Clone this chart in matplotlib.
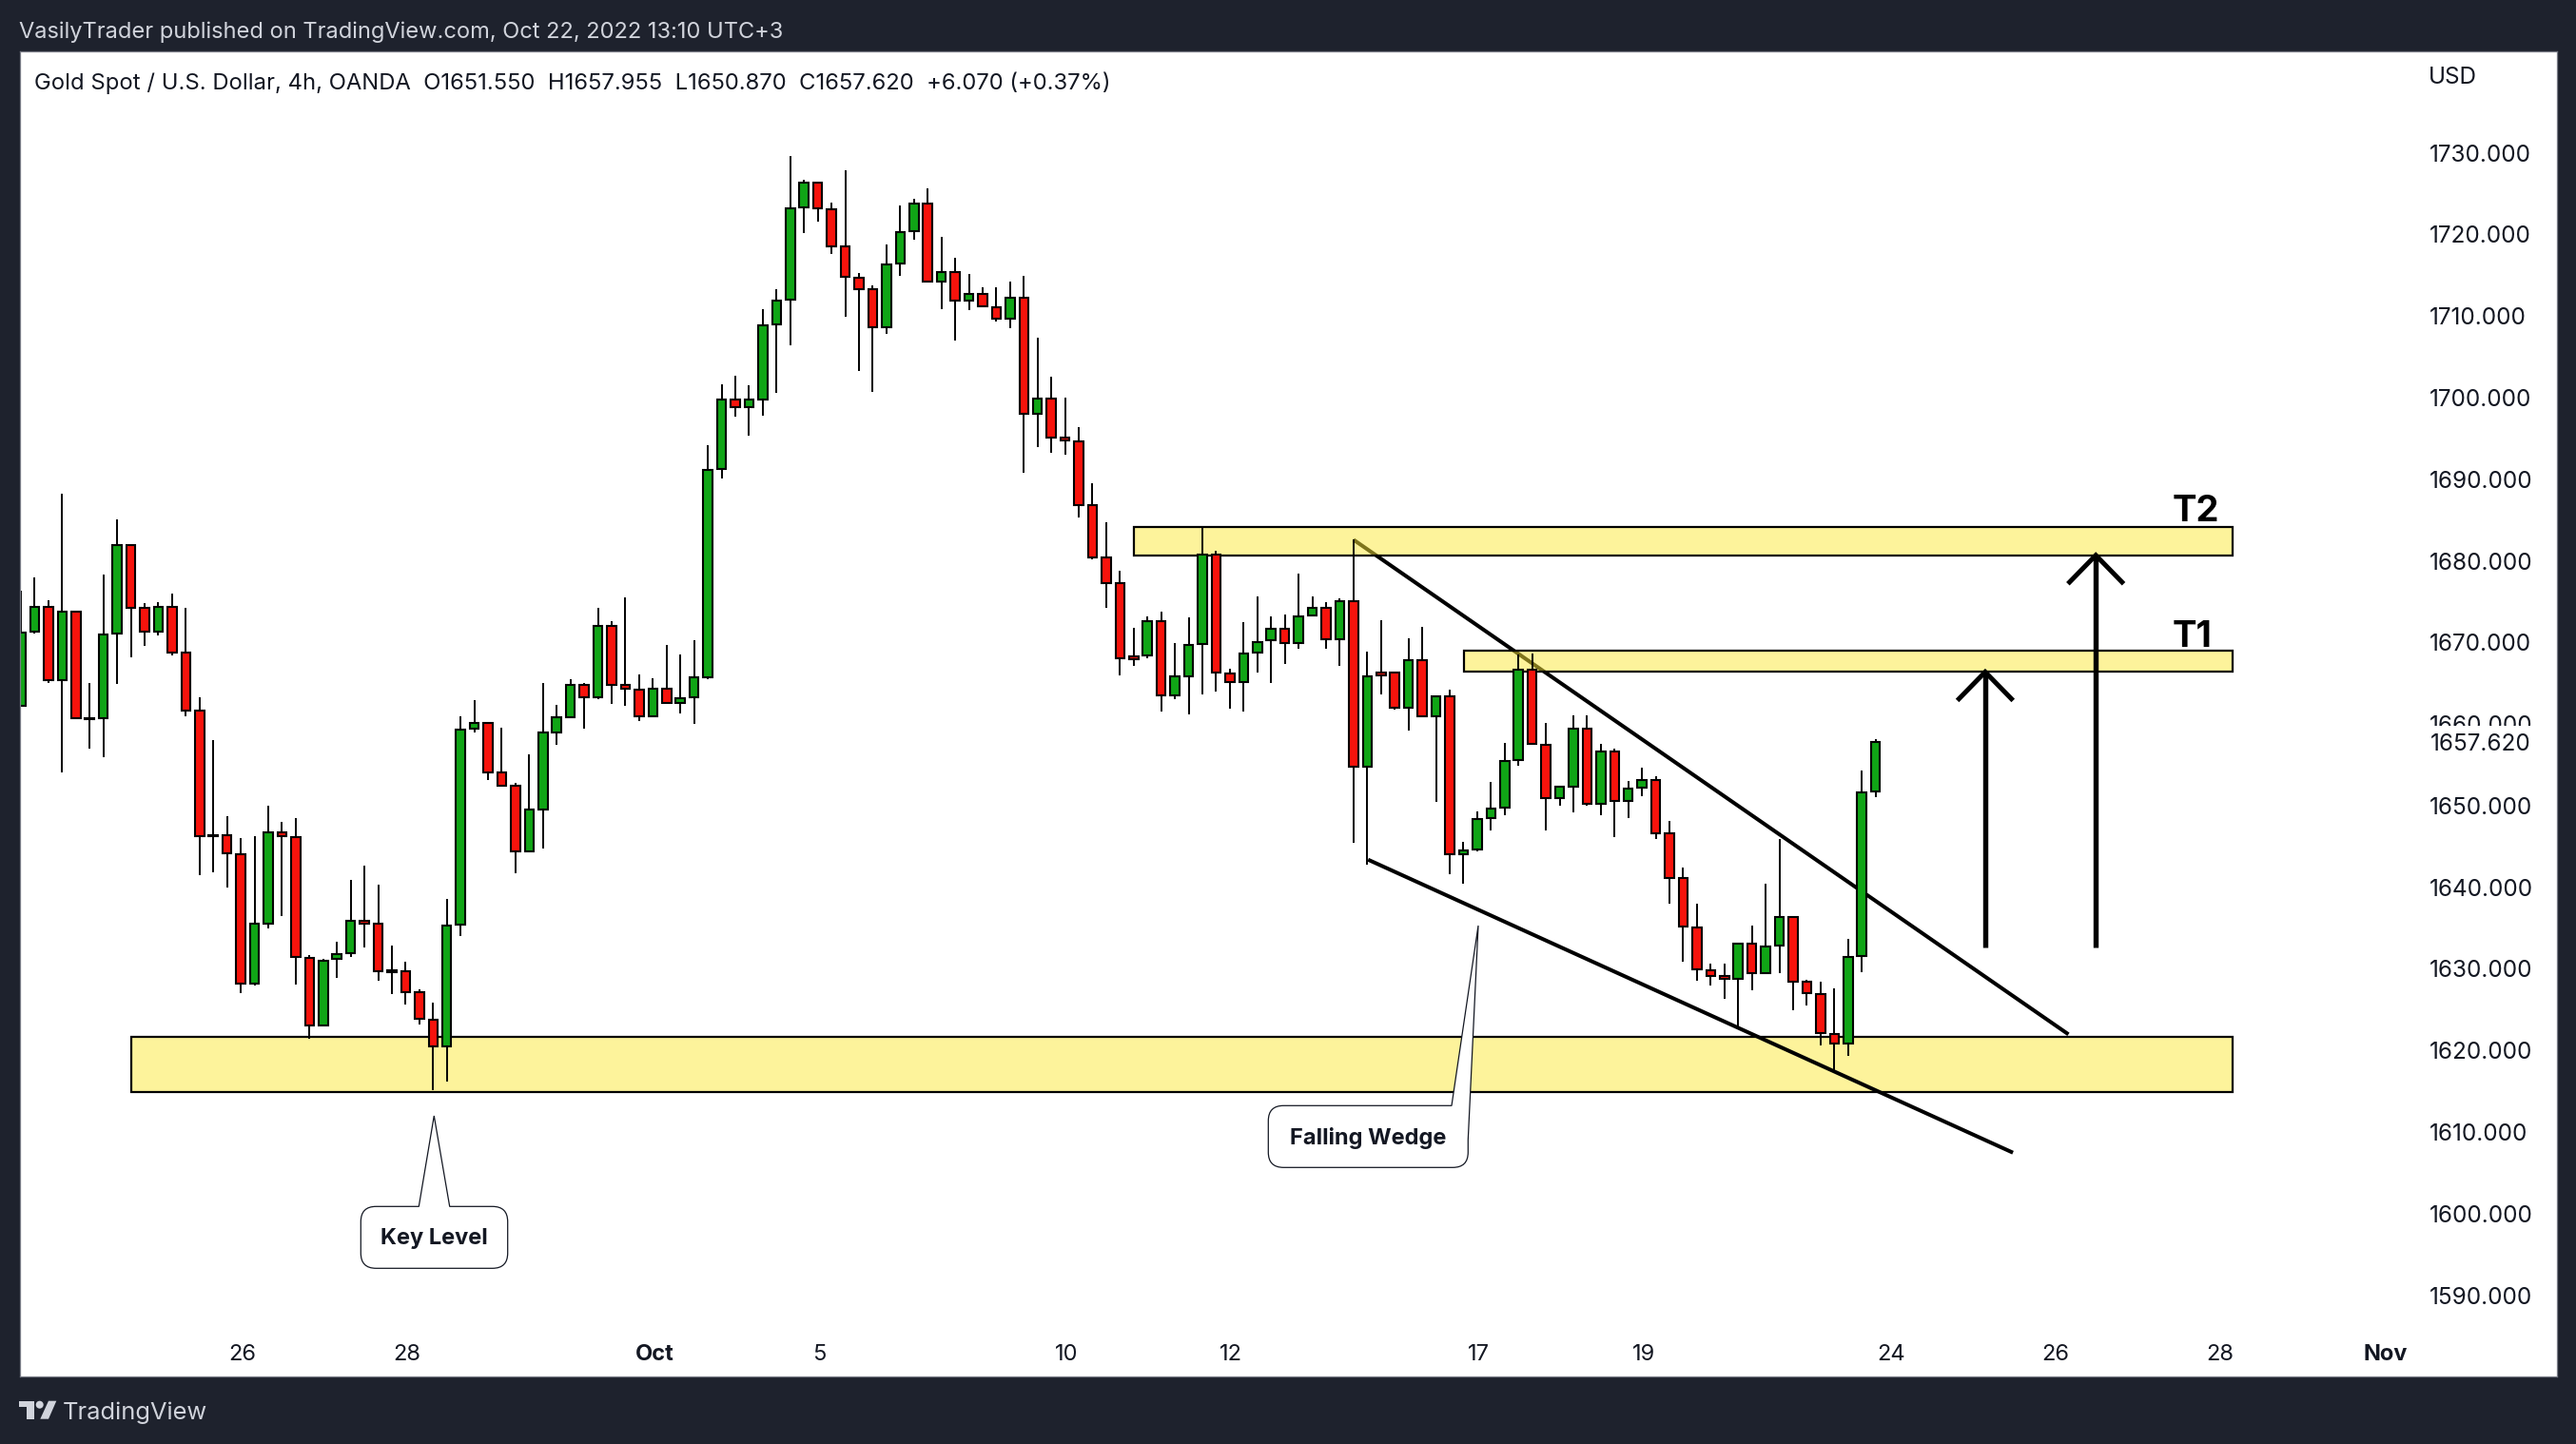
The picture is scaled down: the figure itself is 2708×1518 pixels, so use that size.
import matplotlib
matplotlib.use("Agg")
import matplotlib.pyplot as plt
import numpy as np
from matplotlib.patches import PathPatch, Polygon, Circle
from matplotlib.path import Path
from matplotlib.transforms import Affine2D, ScaledTranslation

W, H = 2708, 1518
DARK = "#1e222d"
GREEN = "#10a516"
RED = "#f7130c"

plt.rcParams["font.family"] = ["Inter", "DejaVu Sans"]

# 4h candles
opens = [
    1662.0, 1671.1, 1674.2, 1665.2, 1673.6, 1660.5, 1660.5, 1670.9, 1681.8, 1674.0,
    1671.2, 1674.2, 1668.6, 1661.5, 1646.2, 1646.2, 1643.9, 1628.0, 1635.4, 1646.5,
    1646.0, 1631.2, 1622.9, 1631.0, 1631.7, 1635.7, 1635.4, 1629.6, 1629.5, 1627.0,
    1623.6, 1620.3, 1635.2, 1659.2, 1659.9, 1653.9, 1652.3, 1644.2, 1649.4, 1658.8,
    1660.7, 1664.6, 1663.1, 1671.8, 1664.6, 1664.0, 1660.8, 1664.2, 1662.4, 1663.1,
    1665.5, 1691.1, 1699.6, 1698.7, 1699.6, 1708.8, 1711.8, 1723.1, 1726.2, 1722.9,
    1718.3, 1714.5, 1713.1, 1708.4, 1716.2, 1720.2, 1723.6, 1714.0, 1715.2, 1711.7,
    1712.5, 1710.9, 1709.5, 1712.0, 1697.8, 1699.7, 1694.9, 1694.5, 1686.6, 1680.2,
    1677.1, 1668.1, 1668.2, 1672.4, 1663.3, 1665.7, 1669.6, 1680.6, 1666.0, 1665.0,
    1668.6, 1670.1, 1671.5, 1669.8, 1673.1, 1674.1, 1670.2, 1674.9, 1654.6, 1666.1,
    1666.1, 1661.8, 1667.6, 1660.8, 1663.2, 1643.9, 1644.4, 1648.3, 1649.6, 1655.4,
    1666.5, 1657.3, 1650.7, 1652.2, 1659.3, 1650.0, 1656.4, 1650.4, 1652.0, 1653.0,
    1646.4, 1640.9, 1634.9, 1629.7, 1629.0, 1628.6, 1632.9, 1629.3, 1632.7, 1636.2,
    1628.2, 1626.7, 1621.8, 1620.7, 1631.4, 1651.55,
]
highs = [
    1676.2, 1677.8, 1675.0, 1688.0, 1673.6, 1664.9, 1678.1, 1684.9, 1681.8, 1674.6,
    1674.7, 1675.8, 1674.1, 1663.1, 1657.9, 1648.5, 1645.8, 1646.1, 1649.8, 1647.8,
    1648.3, 1631.5, 1631.0, 1633.1, 1640.7, 1642.5, 1640.1, 1632.7, 1630.7, 1627.3,
    1625.7, 1638.4, 1660.8, 1662.7, 1659.9, 1659.4, 1652.6, 1656.1, 1664.9, 1662.2,
    1665.3, 1664.9, 1674.1, 1672.4, 1675.3, 1665.9, 1665.4, 1669.5, 1668.3, 1670.1,
    1694.0, 1701.5, 1702.5, 1701.3, 1710.6, 1713.1, 1729.4, 1726.5, 1726.2, 1723.7,
    1727.7, 1715.1, 1713.6, 1718.6, 1723.3, 1724.2, 1725.4, 1719.5, 1717.0, 1715.0,
    1713.3, 1713.3, 1714.0, 1714.7, 1707.2, 1702.4, 1699.8, 1696.2, 1689.3, 1684.5,
    1678.6, 1671.6, 1673.0, 1673.6, 1669.8, 1672.9, 1684.0, 1681.1, 1666.6, 1672.3,
    1675.4, 1673.0, 1673.2, 1678.3, 1675.5, 1674.8, 1675.2, 1682.4, 1668.7, 1672.5,
    1666.2, 1670.3, 1671.7, 1663.3, 1664.0, 1645.4, 1649.1, 1652.7, 1657.5, 1668.3,
    1668.5, 1660.0, 1652.3, 1660.9, 1660.9, 1657.4, 1656.8, 1652.9, 1654.5, 1653.4,
    1648.0, 1642.2, 1637.8, 1630.5, 1630.5, 1633.0, 1635.1, 1640.2, 1645.7, 1636.3,
    1628.5, 1628.3, 1627.4, 1633.5, 1654.1, 1657.955,
]
lows = [
    1662.0, 1670.9, 1664.9, 1653.9, 1660.5, 1656.8, 1655.7, 1664.7, 1668.0, 1669.4,
    1670.7, 1668.2, 1660.8, 1641.3, 1641.7, 1639.8, 1626.9, 1627.8, 1634.8, 1636.3,
    1627.9, 1621.3, 1622.9, 1628.7, 1631.3, 1632.5, 1628.4, 1626.7, 1625.5, 1623.0,
    1615.0, 1616.0, 1633.9, 1658.8, 1653.0, 1652.1, 1641.5, 1644.2, 1644.6, 1657.3,
    1660.7, 1659.2, 1662.9, 1662.3, 1662.0, 1660.2, 1660.8, 1662.4, 1661.1, 1659.8,
    1665.3, 1689.9, 1697.5, 1695.2, 1697.6, 1700.4, 1706.2, 1720.0, 1721.4, 1717.4,
    1709.7, 1703.1, 1700.5, 1707.6, 1714.7, 1719.2, 1714.0, 1710.7, 1706.8, 1710.5,
    1711.0, 1709.1, 1708.3, 1690.6, 1693.8, 1693.1, 1692.8, 1685.1, 1680.0, 1674.0,
    1665.8, 1667.0, 1667.9, 1661.4, 1662.9, 1661.0, 1663.5, 1663.8, 1661.7, 1661.4,
    1666.1, 1664.8, 1667.2, 1669.1, 1673.1, 1669.1, 1667.0, 1645.3, 1642.6, 1663.4,
    1661.6, 1659.0, 1660.6, 1650.3, 1641.4, 1640.2, 1644.2, 1646.8, 1648.7, 1654.7,
    1657.4, 1646.8, 1649.8, 1649.0, 1649.8, 1648.7, 1646.0, 1648.3, 1651.0, 1645.7,
    1637.8, 1630.7, 1628.4, 1627.8, 1626.1, 1622.6, 1627.2, 1629.3, 1629.3, 1624.8,
    1625.3, 1620.4, 1617.3, 1619.2, 1629.4, 1650.87,
]
closes = [
    1671.0, 1674.2, 1665.2, 1673.6, 1660.5, 1660.4, 1670.8, 1681.8, 1674.0, 1671.2,
    1674.2, 1668.6, 1661.5, 1646.1, 1646.1, 1644.0, 1628.0, 1635.4, 1646.5, 1646.1,
    1631.3, 1622.9, 1630.8, 1631.6, 1635.7, 1635.4, 1629.5, 1629.4, 1627.0, 1623.7,
    1620.3, 1635.1, 1659.1, 1659.9, 1653.9, 1652.3, 1644.2, 1649.4, 1658.8, 1660.7,
    1664.6, 1663.1, 1671.8, 1664.6, 1664.2, 1660.8, 1664.2, 1662.4, 1663.0, 1665.5,
    1691.0, 1699.6, 1698.7, 1699.6, 1708.7, 1711.7, 1723.0, 1726.2, 1723.0, 1718.3,
    1714.6, 1713.1, 1708.4, 1716.1, 1720.1, 1723.6, 1714.0, 1715.2, 1711.7, 1712.5,
    1711.0, 1709.5, 1712.0, 1697.8, 1699.7, 1694.9, 1694.6, 1686.6, 1680.2, 1677.1,
    1667.9, 1667.8, 1672.4, 1663.3, 1665.7, 1669.5, 1680.6, 1666.1, 1665.0, 1668.5,
    1669.9, 1671.5, 1669.8, 1673.0, 1674.1, 1670.2, 1674.9, 1654.6, 1665.7, 1665.8,
    1661.8, 1667.6, 1660.8, 1663.2, 1643.9, 1644.3, 1648.2, 1649.5, 1655.3, 1666.5,
    1657.4, 1650.7, 1652.2, 1659.3, 1650.0, 1656.4, 1650.4, 1651.9, 1653.0, 1646.4,
    1641.0, 1635.0, 1629.8, 1629.0, 1628.6, 1632.9, 1629.3, 1632.6, 1636.2, 1628.2,
    1626.8, 1621.9, 1620.7, 1631.3, 1651.4, 1657.62,
]

price_ticks = [1590, 1600, 1610, 1620, 1630, 1640, 1650, 1660, 1670, 1680, 1690, 1700, 1710, 1720, 1730]
last_price = 1657.62
date_ticks = [16, 28, 46, 58, 76, 88, 106, 118, 136, 148, 160, 172]
date_labels = ["26", "28", "Oct", "5", "10", "12", "17", "19", "24", "26", "28", "Nov"]

# zones: left, right, bottom, top
key_zone = (8.03, 161.0, 1614.7, 1621.5)
t2_zone = (81.0, 161.0, 1680.5, 1684.0)
t1_zone = (105.05, 161.0, 1666.2, 1668.85)
upper_wedge = ([97.0, 149.04], [1682.4, 1621.8])
lower_wedge = ([98.06, 145.0], [1643.2, 1607.3])
# arrows: x, bottom, top
arrow_t1 = (142.98, 1632.4, 1666.2)
arrow_t2 = (151.03, 1632.4, 1680.5)

fig = plt.figure(figsize=(W / 100, H / 100), dpi=100, facecolor=DARK)
ax = fig.add_axes([21 / W, (H - 1447) / H, (2688 - 21) / W, (1447 - 54) / H], facecolor="white")
ax.set_xlim(-0.07, 184.6)
ax.set_ylim(1579.88, 1742.24)
for s in ax.spines.values():
    s.set_color("#787b86")
    s.set_linewidth(0.9)

# zones sit above the upper wedge line, so it shows through them
zone_fill = (0.992, 0.914, 0.224, 0.5)
for (x0, x1, y0, y1), z in zip([key_zone, t2_zone, t1_zone], [0.8, 1, 1]):
    ax.fill([x0, x1, x1, x0], [y0, y0, y1, y1], facecolor=zone_fill, edgecolor="black", linewidth=1.6, zorder=z)

ax.plot(*upper_wedge, color="black", lw=2.9, solid_capstyle="butt", zorder=0.5)
ax.plot(*lower_wedge, color="black", lw=2.9, solid_capstyle="butt", zorder=1.5)

# candles
idx = np.arange(len(opens))
o = np.array(opens)
c = np.array(closes)
colors = [GREEN if b >= a else RED for a, b in zip(opens, closes)]
ax.vlines(idx, lows, highs, color="black", lw=1.4, zorder=2)
ax.bar(idx, np.abs(c - o), bottom=np.minimum(o, c), width=0.66, color=colors, edgecolor="black", linewidth=1.5, zorder=2.1)

# target arrows
for x, bottom, top in [arrow_t1, arrow_t2]:
    ax.plot([x, x], [bottom, top - 0.2], color="black", lw=3.9, solid_capstyle="butt", zorder=4)
    ax.plot([x - 2.03, x, x + 2.03], [top - 3.5, top, top - 3.5], color="black", lw=3.6,
            solid_capstyle="butt", solid_joinstyle="miter", zorder=4)

ax.text(156.6, 1684.66, "T2", fontsize=27.5, fontweight="bold", color="black", va="baseline", ha="left", zorder=4)
ax.text(156.6, 1669.28, "T1", fontsize=27.5, fontweight="bold", color="black", va="baseline", ha="left", zorder=4)

# axes
ax.yaxis.tick_right()
ax.set_yticks(price_ticks)
ax.set_yticklabels([f"{p:.3f}" for p in price_ticks])
ax.tick_params(axis="y", length=0, pad=-96.5, labelsize=17.5, labelcolor="#131722")
nudge_y = ScaledTranslation(0, -1.5 / 100, fig.dpi_scale_trans)
for lab in ax.get_yticklabels():
    lab.set_ha("left")
    lab.set_transform(lab.get_transform() + nudge_y)
ax.set_xticks(date_ticks)
ax.set_xticklabels(date_labels)
ax.tick_params(axis="x", length=0, pad=-24.5, labelsize=17, labelcolor="#131722")
nudge_x = ScaledTranslation(1.5 / 100, 0, fig.dpi_scale_trans)
for lab in ax.get_xticklabels():
    lab.set_transform(lab.get_transform() + nudge_x)
ax.get_xticklabels()[2].set_fontweight("bold")
ax.get_xticklabels()[-1].set_fontweight("bold")

ax.text(175.35, last_price, f"{last_price:.3f}", fontsize=17.5, color="#131722", va="center_baseline", ha="left", zorder=6,
        bbox=dict(facecolor="white", edgecolor="none", pad=6))
fig.text(2553 / W, 1 - 81.5 / H, "USD", fontsize=17.5, color="#131722", va="center", ha="left")

# title and frame texts
fig.text(36 / W, 1 - 87.5 / H, "Gold Spot / U.S. Dollar, 4h, OANDA  O1651.550  H1657.955  L1650.870  C1657.620  +6.070 (+0.37%)",
         fontsize=17.15, color="#131722", va="center", ha="left")
fig.text(20 / W, 1 - 33.5 / H, "VasilyTrader published on TradingView.com, Oct 22, 2022 13:10 UTC+3",
         fontsize=17, color="#d1d4dc", va="center", ha="left")
fig.text(66 / W, 1 - 1485.5 / H, "TradingView", fontsize=18.3, color="#d1d4dc", va="center", ha="left")

# page pixels, y going down, for the callouts and logo
px = Affine2D().scale(1, -1).translate(0, H)


def callout(left, right, top, bottom, tip, base0, base1, text, fontsize):
    r = 16
    if base1 is None:
        base1 = (right, top + 36)
    MV, LN, CV = Path.MOVETO, Path.LINETO, Path.CURVE3
    verts = [(left + r, top), base0, tip, base1]
    codes = [MV, LN, LN, LN]
    if base1[1] == top:
        verts += [(right - r, top), (right, top), (right, top + r)]
        codes += [LN, CV, CV]
    verts += [(right, bottom - r), (right, bottom), (right - r, bottom),
              (left + r, bottom), (left, bottom), (left, bottom - r),
              (left, top + r), (left, top), (left + r, top)]
    codes += [LN, CV, CV, LN, CV, CV, LN, CV, CV]
    patch = PathPatch(Path(verts, codes), facecolor="white", edgecolor="#131722", lw=0.9,
                      transform=px, zorder=5, clip_on=False)
    ax.add_patch(patch)
    fig.text((left + right) / 2 / W, 1 - ((top + bottom) / 2 + 1.5) / H, text, fontsize=fontsize, fontweight="bold",
             color="#131722", va="center", ha="center", zorder=6)


callout(379.3, 533.7, 1268.3, 1333.3, (456.3, 1173), (440.3, 1268.3), (472.7, 1268.3), "Key Level", 17)
callout(1333.3, 1543.3, 1162.3, 1227.3, (1554, 973), (1526, 1162.3), None, "Falling Wedge", 17)

# TradingView logo
logo = "#d1d4dc"
fig.add_artist(Polygon([(20, 1472.7), (36, 1472.7), (36, 1491.7), (27.7, 1491.7), (27.7, 1479), (20, 1479)],
                       closed=True, facecolor=logo, edgecolor="none", transform=px))
fig.add_artist(Circle((41.7, 1476.7), 4, facecolor=logo, edgecolor="none", transform=px))
fig.add_artist(Polygon([(51, 1472.7), (59.3, 1472.7), (51, 1491.7), (42.3, 1491.7)],
                       closed=True, facecolor=logo, edgecolor="none", transform=px))

fig.savefig("out.png", dpi=100, facecolor=DARK)
